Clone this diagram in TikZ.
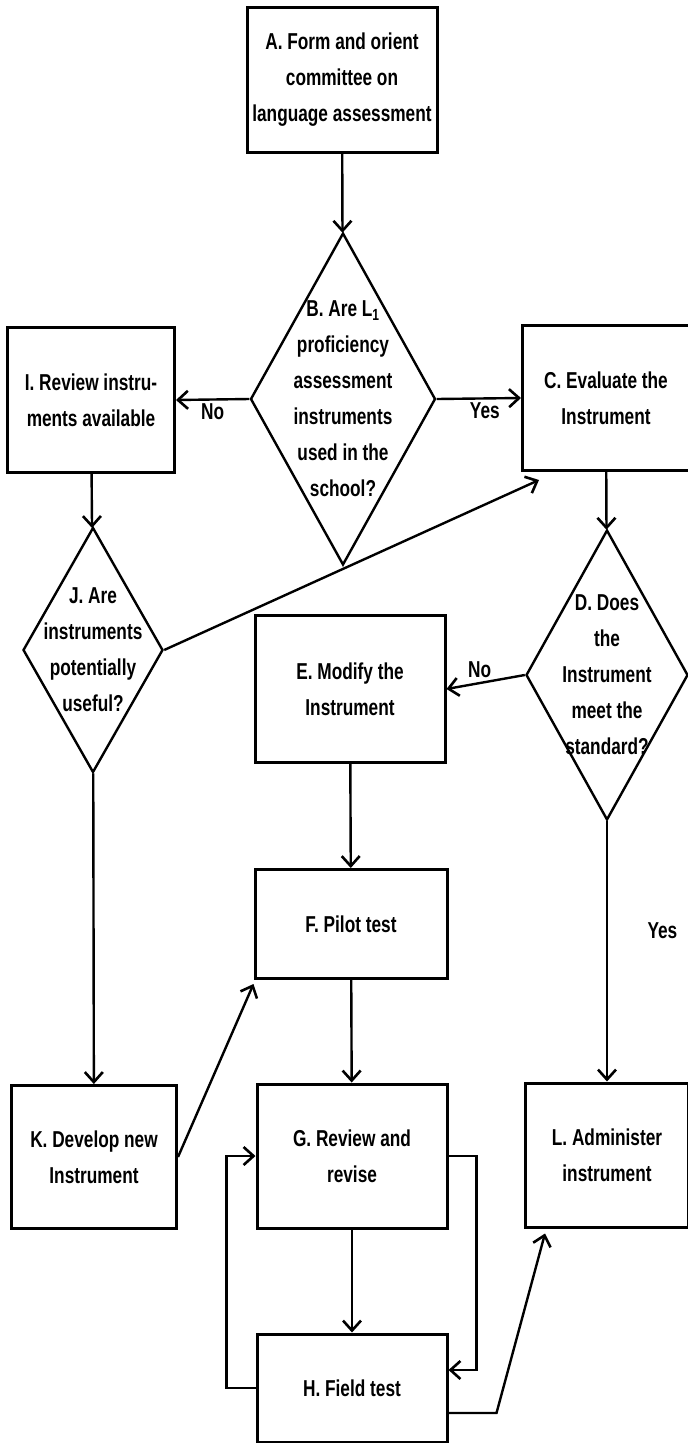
\documentclass[tikz,border=0pt]{standalone}
\usepackage{fontspec}
\setmainfont{Liberation Sans}[FakeStretch=0.75]
\usetikzlibrary{arrows.meta,shapes.geometric}
\tikzset{>={Straight Barb[length=10pt,width=18pt,line width=2.6pt]},
  txt/.style={font=\bfseries\fontsize{23}{36}\selectfont,align=center},
  box/.style={draw,line width=3pt,txt,inner sep=0pt},
  decision/.style={diamond,draw,line width=2.4pt,inner sep=0pt},
  flow/.style={->,line width=2.4pt}}

\begin{document}
\begin{tikzpicture}[x=1pt,y=-1pt]
    \useasboundingbox (0,0) rectangle (688,1443);
    % boxes
    \node[box,minimum width=190pt,minimum height=145pt] (A) at (342,80) {A. Form and orient\\committee on\\language assessment};
    \node[box,minimum width=167pt,minimum height=145pt] (I) at (91,400) {I. Review instru-\\ments available};
    \node[box,minimum width=167pt,minimum height=145pt] (C) at (606,398) {C. Evaluate the\\Instrument};
    \node[box,minimum width=190pt,minimum height=147pt] (E) at (350,689) {E. Modify the\\Instrument};
    \node[box,minimum width=192pt,minimum height=109pt] (F) at (351,924) {F. Pilot test};
    \node[box,minimum width=190pt,minimum height=144pt] (G) at (352,1156) {G. Review and\\revise};
    \node[box,minimum width=190pt,minimum height=108pt] (H) at (352,1388) {H. Field test};
    \node[box,minimum width=165pt,minimum height=143pt] (K) at (94,1157) {K. Develop new\\Instrument};
    \node[box,minimum width=163pt,minimum height=144pt] (L) at (607,1155) {L. Administer\\instrument};
    % decisions
    \node[decision,minimum width=185pt,minimum height=332pt,
      label={[txt]center:B. Are L\textsubscript{1}\\proficiency\\assessment\\instruments\\used in the\\school?}] (B) at (343,399) {};
    \node[decision,minimum width=140pt,minimum height=245pt,
      label={[txt]center:J. Are\\instruments\\potentially\\useful?}] (J) at (93,650) {};
    \node[decision,minimum width=162pt,minimum height=290pt,
      label={[txt]center:D. Does\\the\\Instrument\\meet the\\standard?}] (D) at (607,675) {};
    % connectors
    \draw[flow] (A) -- (B);
    \draw[flow] (B.west) -- node[txt,below] {No} (I.east);
    \draw[flow] (B.east) -- node[txt,below,xshift=6pt] {Yes} (C.west);
    \draw[flow] (I) -- (J);
    \draw[flow] (J.east) -- ([xshift=18pt,yshift=-8pt]C.south west);
    \draw[flow] (C) -- (D);
    \draw[flow] (D.west) -- node[txt,above,xshift=-6pt] {No} (E.east);
    \draw[flow] (E) -- (F);
    \draw[flow] (J) -- (K);
    \draw[flow] (K.east) -- ([yshift=-4pt]F.south west);
    \draw[flow] (D) -- node[txt,right=36pt,pos=0.42] {Yes} (L);
    \draw[flow] (F) -- (G);
    \draw[flow] (G) -- (H);
    \draw[flow] (H.west) -- ++(-29,0) |- (G.west);
    \draw[flow] (G.east) -- ++(28,0) |- ([yshift=18pt]H.east);
    \draw[flow] ([yshift=-25pt]H.east) -- ++(48,0) -- ([xshift=21pt,yshift=-5pt]L.south west);
\end{tikzpicture}
\end{document}
